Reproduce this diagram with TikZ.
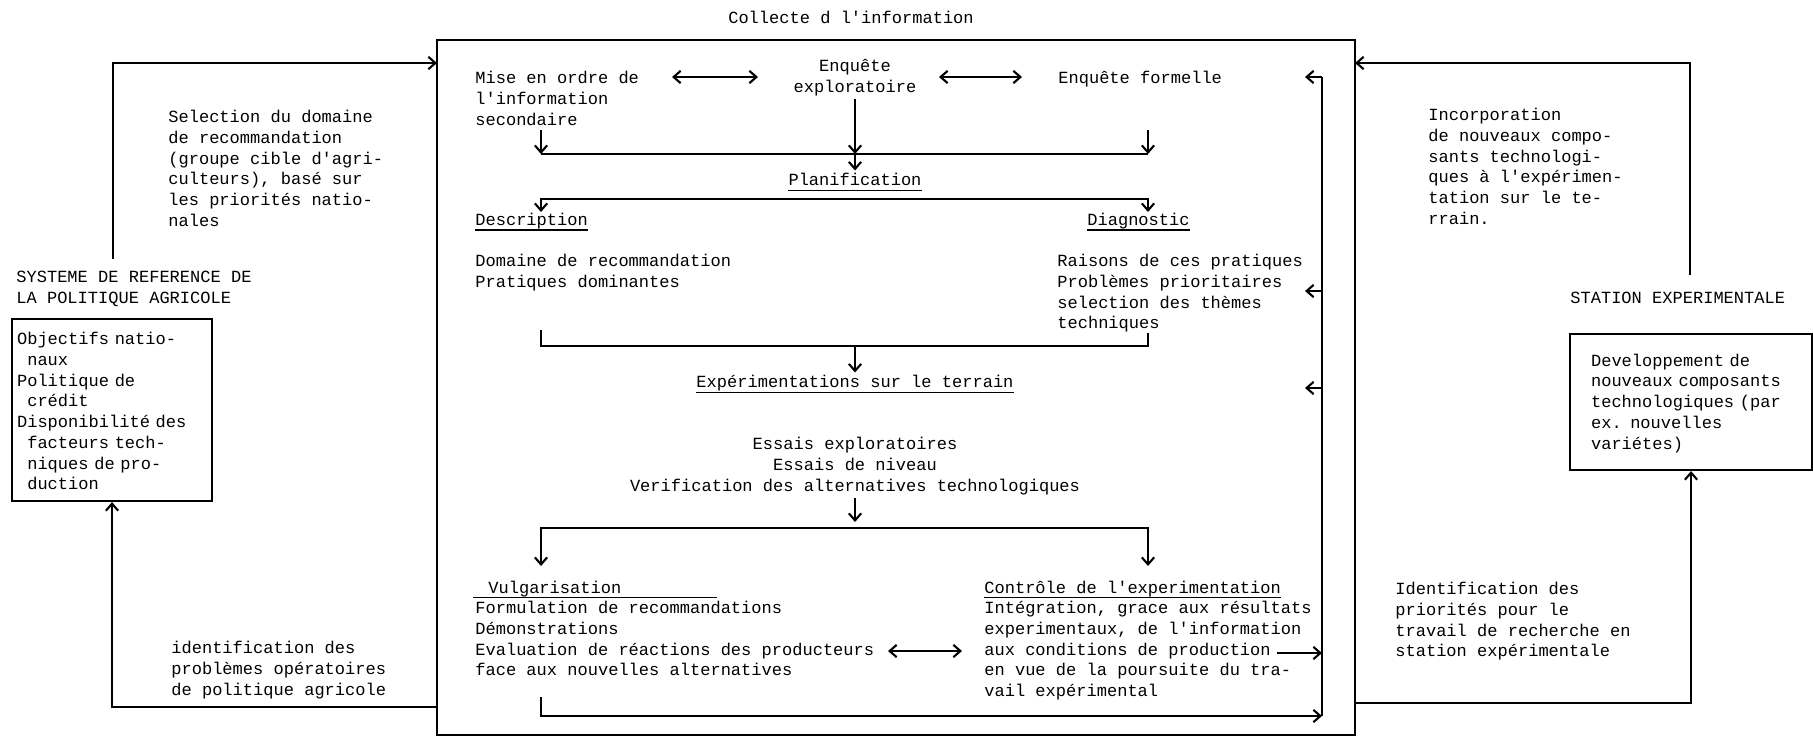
\documentclass[tikz,border=0pt]{standalone}
\usepackage{fontspec}
\setmonofont{Liberation Mono}
\usetikzlibrary{arrows.meta}

\newcommand{\ind}{\hspace*{0.6em}}

\tikzset{
	ln/.style={line width=1.2pt},
	arr/.style={ln,-{Straight Barb[length=4pt,width=7pt]}},
	dbl/.style={ln,{Straight Barb[length=4pt,width=7pt]}-{Straight Barb[length=4pt,width=7pt]}},
	uline/.style={line width=0.9pt},
	txt/.style={inner sep=0pt,align=left,anchor=north west,
		font=\ttfamily\fontsize{9.7pt}{11.8pt}\selectfont,execute at begin node=\strut},
	ctxt/.style={txt,align=center,anchor=north},
	boxed/.style={txt,draw,line width=1.2pt}
}

\begin{document}
\begin{tikzpicture}[x=0.02cm,y=-0.02cm]
			\useasboundingbox (0,0) rectangle (1813,738);
			
			% cadre central
			\coordinate (mnw) at (437,40);
			\coordinate (mse) at (1355,735);
			\draw[ln] (mnw) rectangle (mse);
			
			\begin{scope}[every node/.style={txt}]
				\node[ctxt] (coll) at (851,8.5) {Collecte d l'information};
				
				% gauche
				\node (sel) at (168,110) {Selection du domaine\\de recommandation\\(groupe cible d'agri-\\culteurs), basé sur\\les priorités natio-\\nales};
				\node (sysl) at (16,271) {SYSTEME DE REFERENCE DE\\LA POLITIQUE AGRICOLE};
				\node[boxed,inner xsep=0.1cm,text width=3.8cm,minimum height=3.64cm] (polbox) at (11,318) {Objectifs natio-\\\ind naux\\Politique de\\\ind crédit\\Disponibilité des\\\ind facteurs tech-\\\ind niques de pro-\\\ind duction};
				\node (ident) at (171,641) {identification des\\problèmes opératoires\\de politique agricole};
				
				% droite
				\node (incorp) at (1428,108) {Incorporation\\de nouveaux compo-\\sants technologi-\\ques à l'expérimen-\\tation sur le te-\\rrain.};
				\node (statl) at (1570,289) {STATION EXPERIMENTALE};
				\node[boxed,inner xsep=0.42cm,text width=4cm,minimum height=2.72cm] (statbox) at (1569,333) {Developpement de\\nouveaux composants\\technologiques (par\\ex. nouvelles\\variétes)};
				\node (prio) at (1395,582) {Identification des\\priorités pour le\\travail de recherche en\\station expérimentale};
				
				% interieur
				\node (mise) at (475,71) {Mise en ordre de\\l'information\\secondaire};
				\node[ctxt] (explo) at (855,59) {Enquête\\exploratoire};
				\node (formelle) at (1058,69) {Enquête formelle};
				\node[ctxt] (plan) at (855,170.5) {Planification};
				\node (descr) at (475,210.5) {Description};
				\node (diag) at (1087,210.5) {Diagnostic};
				\node (dom) at (475,254) {Domaine de recommandation\\Pratiques dominantes};
				\node (rais) at (1057,254) {Raisons de ces pratiques\\Problèmes prioritaires\\selection des thèmes\\techniques};
				\node[ctxt] (expe) at (855,372.5) {Expérimentations sur le terrain};
				\node[ctxt] (essais) at (855,437) {Essais exploratoires\\Essais de niveau\\Verification des alternatives technologiques};
				\node (vulg) at (488,579) {Vulgarisation};
				\node (form) at (475,601) {Formulation de recommandations\\Démonstrations\\Evaluation de réactions des producteurs\\face aux nouvelles alternatives};
				\node (ctrl) at (984,579) {Contrôle de l'experimentation};
				\node (integ) at (984,601) {Intégration, grace aux résultats\\experimentaux, de l'information\\aux conditions de production\\en vue de la poursuite du tra-\\vail expérimental};
			\end{scope}
			
			% soulignements
			\begin{scope}[uline]
				\draw ([yshift=-3pt]plan.base west) -- ([yshift=-3pt]plan.base east);
				\draw ([yshift=-2.5pt]descr.base west) -- ([yshift=-2.5pt]descr.base east);
				\draw ([yshift=-2.5pt]diag.base west) -- ([yshift=-2.5pt]diag.base east);
				\draw ([yshift=-3pt]expe.base west) -- ([yshift=-3pt]expe.base east);
				\draw ([yshift=-2pt]vulg.base west) ++(-15,0) -- ++(244,0);
				\draw ([yshift=-2pt]ctrl.base west) -- ([yshift=-2pt]ctrl.base east);
			\end{scope}
			
			% boucles exterieures
			\coordinate (sa) at (113,259);
			\coordinate (sb) at (437,63);
			\coordinate (ia) at (437,707);
			\coordinate (ra) at (1690,275);
			\coordinate (rb) at (1355,63);
			\coordinate (rc) at (1355,703);
			\draw[arr] (sa) |- (sb);
			\draw[arr] (ia) -| (polbox.south);
			\draw[arr] (ra) |- (rb);
			\draw[arr] (rc) -| (statbox.south);
			
			% collecte
			\coordinate (d1) at (672,77);
			\coordinate (d2) at (758,77);
			\coordinate (d3) at (939,77);
			\coordinate (d4) at (1022,77);
			\coordinate (ma) at (541,130);
			\coordinate (mb) at (541,154);
			\coordinate (fa) at (1148,130);
			\coordinate (fbb) at (1148,154);
			\coordinate (ec) at (855,154);
			\draw[dbl] (d1) -- (d2);
			\draw[dbl] (d3) -- (d4);
			\draw[arr] (ma) -- (mb);
			\draw[arr] (fa) -- (fbb);
			\draw[arr] (explo.south) -- (ec);
			\draw[ln] (mb) -- (fbb);
			\draw[arr] (ec) -- (plan.north);
			
			% planification
			\coordinate (pla) at (541,212);
			\coordinate (pl) at (541,199);
			\coordinate (pr) at (1148,199);
			\coordinate (pra) at (1148,212);
			\draw[dbl] (pla) -- (pl) -- (pr) -- (pra);
			
			% description / diagnostic
			\coordinate (ba) at (541,330);
			\coordinate (bb) at (541,346);
			\coordinate (bc) at (1148,346);
			\coordinate (bd) at (1148,333);
			\coordinate (bm) at (855,346);
			\draw[ln] (ba) -- (bb) -- (bc) -- (bd);
			\draw[arr] (bm) -- (expe.north);
			
			% essais
			\coordinate (ea) at (855,498);
			\coordinate (eb) at (855,522);
			\coordinate (ela) at (541,566);
			\coordinate (el) at (541,528);
			\coordinate (er) at (1148,528);
			\coordinate (era) at (1148,566);
			\draw[arr] (ea) -- (eb);
			\draw[dbl] (ela) -- (el) -- (er) -- (era);
			
			% vulgarisation / controle
			\coordinate (v1) at (888,651);
			\coordinate (v2) at (962,651);
			\draw[dbl] (v1) -- (v2);
			
			% retour vers la droite
			\coordinate (ft) at (1322,77);
			\coordinate (fb) at (1322,716);
			\coordinate (f1) at (1305,77);
			\coordinate (f2) at (1305,291);
			\coordinate (f3) at (1305,388);
			\coordinate (f4) at (1322,291);
			\coordinate (f5) at (1322,388);
			\coordinate (ca) at (1277,653);
			\coordinate (cb) at (1322,653);
			\coordinate (ga) at (541,697);
			\draw[ln] (fb) -- (ft);
			\draw[arr] (ft) -- (f1);
			\draw[arr] (f4) -- (f2);
			\draw[arr] (f5) -- (f3);
			\draw[arr] (ca) -- (cb);
			\draw[arr] (ga) |- (fb);
		\end{tikzpicture}
\end{document}
